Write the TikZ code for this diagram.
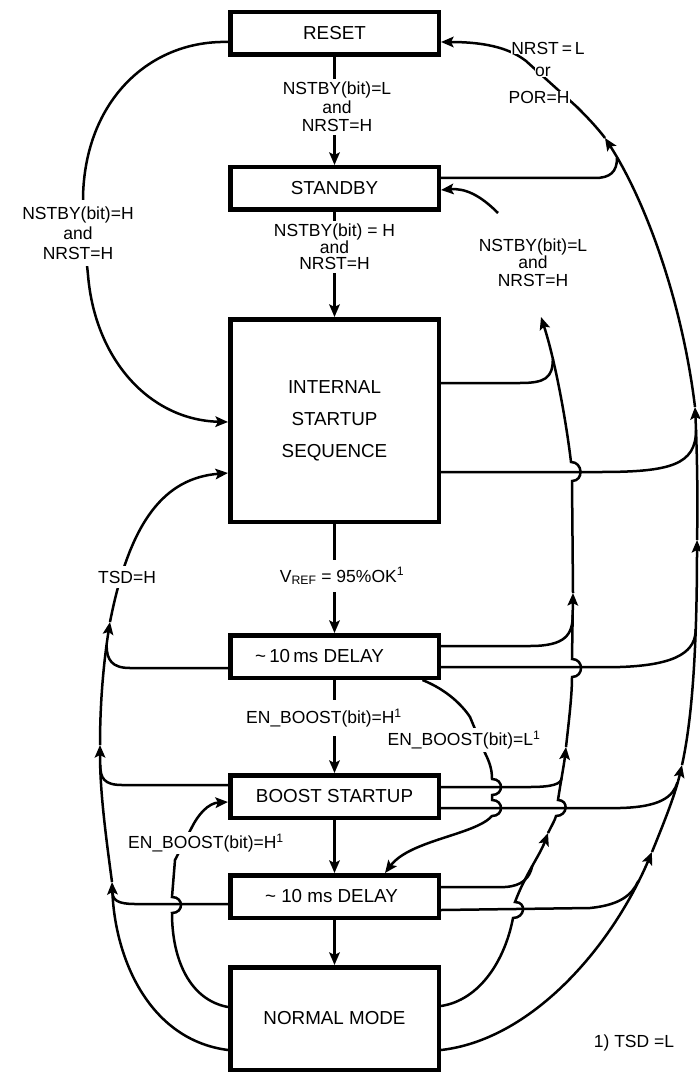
\documentclass[tikz,border=0pt]{standalone}
\usepackage{fontspec}
\setmainfont{Liberation Sans}
\usetikzlibrary{arrows.meta,backgrounds}
\begin{document}
\begin{tikzpicture}[x=1pt,y=-1pt,
  box/.style={draw,line width=4.5pt,minimum width=208.5pt,minimum height=42.5pt,inner sep=0pt,font=\fontsize{18.8}{22}\selectfont},
  lbl/.style={fill=white,inner sep=3pt,align=center,font=\fontsize{17.5}{18}\selectfont},
  tlbl/.style={fill=white,inner sep=0.3pt,font=\fontsize{17.5}{18}\selectfont},
  conn/.style={line width=2.5pt},
  arr/.style={line width=2.5pt,-{Stealth[length=12.5pt,width=10.5pt,inset=2.5pt]}},
]
\useasboundingbox (0,0) rectangle (699,1075);
% boxes
\node[box] (reset) at (334.5,33.5) {RESET};
\node[box] (standby) at (334.5,188.5) {STANDBY};
\node[box,minimum height=202.5pt,align=center,font=\fontsize{18.8}{32}\selectfont] (iss) at (334.5,420.5) {INTERNAL\\STARTUP\\SEQUENCE};
\node[box] (d1) at (334.5,656.5) {\hspace*{-30pt}\textasciitilde\,10\,ms DELAY};
\node[box] (boost) at (334.5,796.5) {BOOST STARTUP};
\node[box] (d2) at (334.5,896.5) {\hspace*{-6pt}\textasciitilde\ 10 ms DELAY};
\node[box,minimum height=102.5pt] (normal) at (334.5,1018.5) {NORMAL MODE};
% labels
\node[lbl,font=\fontsize{17.5}{18.5}\selectfont] (lblM1) at (337,107) {NSTBY(bit)=L\\and\\NRST=H};
\node[lbl,font=\fontsize{17.5}{16.5}\selectfont] (lblM2) at (334.5,247) {NSTBY(bit) = H\\and\\NRST=H};
\node[lbl,inner ysep=7pt] (lblV) at (342,576) {V\textsubscript{REF} = 95\%OK\textsuperscript{1}};
\node[lbl,inner ysep=9pt] (lblEH) at (324,718) {EN\_BOOST(bit)=H\textsuperscript{1}};
\node[lbl] (lblEL) at (464,740) {EN\_BOOST(bit)=L\textsuperscript{1}};
\node[lbl,inner sep=2pt] (lblEH2) at (206,843) {EN\_BOOST(bit)=H\textsuperscript{1}};
\node[lbl,inner ysep=7pt,font=\fontsize{17.5}{20}\selectfont] (lblL) at (78,233) {NSTBY(bit)=H\\and\\NRST=H};
\node[lbl,inner ysep=5pt] (lblT) at (127,577) {TSD=H};
\node[lbl,font=\fontsize{17.5}{17.5}\selectfont] (lblB) at (533,262.5) {NSTBY(bit)=L\\and\\NRST=H};
\node[tlbl] (lblN1) at (548,48) {NRST\,=\,L};
\node[tlbl] (lblN2) at (543,72) {or};
\node[tlbl] (lblN3) at (539,97) {POR=H};
\node[font=\fontsize{17.5}{18}\selectfont] (note) at (634,1043) {1) TSD =L};

\begin{scope}[on background layer]
\fill[white] (0,0) rectangle (699,1075);
% centre chain
\draw[arr] (reset.south) -- (standby.north);
\draw[arr] (standby.south) -- (iss.north);
\draw[arr] (iss.south) -- (d1.north);
\draw[arr] (d1.south) -- (boost.north);
\draw[arr] (boost.south) -- (d2.north);
\draw[arr] (d2.south) -- (normal.north);
% left: reset -> iss
\draw[arr] ([yshift=-8.5pt]reset.west) .. controls (150,40) and (85,100) .. (83,197)
  .. controls (83,230) and (86,255) .. (88,275)
  .. controls (95,360) and (150,420) .. ([yshift=-1.5pt]iss.west);
% left: TSD=H main line
\draw[arr] ([yshift=-31.5pt]normal.west) .. controls (150,1040) and (115,960) .. (112,882);
\draw[arr] (112,882) .. controls (105,830) and (100,790) .. (100,745);
\draw[arr] (100,745) .. controls (100,700) and (104,660) .. (110,622);
\draw[arr] (110,622) .. controls (130,520) and (165,478) .. ([yshift=-52.5pt]iss.west);
\draw[conn] ([yshift=-11.5pt]d1.west) -- (130,668) .. controls (112,668) and (106.6,660) .. (106.6,645);
\draw[conn] ([yshift=11.5pt]boost.west) -- (122,785) .. controls (104,785) and (100.3,778) .. (100.3,765);
\draw[conn] ([yshift=-7.5pt]d2.west) -- (135,904) .. controls (118,904) and (112.7,900) .. (112.7,893);
% left: EN_BOOST=H normal -> boost
\draw[arr] ([yshift=11.5pt]normal.west) .. controls (190,1000) and (172,960) .. (172,913)
  .. controls (184,913) and (184,897) .. (172,897) -- (175,860) -- (192,827)
  .. controls (198,815) and (208,803) .. ([yshift=-5.5pt]boost.west);
% EN_BOOST=L d1 -> d2
\draw[arr] ([xshift=88pt]d1.south) .. controls (447,690) and (462,705) .. (470,717) -- (485,753)
  .. controls (490,763) and (492,770) .. (492,779)
  .. controls (504,779) and (504,795) .. (492,795) -- (492,800)
  .. controls (504,800) and (504,816) .. (492,816)
  .. controls (475,835) and (410,840) .. ([xshift=50.5pt]d2.north);
% right outer line A -> reset
\draw[arr] ([yshift=-31.5pt]normal.east) .. controls (530,1040) and (610,950) .. (652,852);
\draw[arr] (652,852) .. controls (665,820) and (675,795) .. (682,765);
\draw[arr] (682,765) .. controls (692,720) and (697,650) .. (697,540);
\draw[arr] (697,540) .. controls (698,500) and (697,450) .. (695,407);
\draw[arr] (695,407) .. controls (682,300) and (645,200) .. (605,138);
\draw[arr] (605,138) .. controls (595,125) and (585,115) .. (577,107) -- (526,61)
  .. controls (512,50) and (490,42) .. ([yshift=-8.5pt]reset.east);
\draw[conn] ([yshift=10.5pt]standby.east) -- (595,178) .. controls (610,178) and (617,172) .. (617,158);
\draw[conn] ([yshift=-51.5pt]iss.east) -- (600,472) .. controls (670,472) and (696,465) .. (696,430);
\draw[conn] ([yshift=-10.5pt]d1.east) -- (620,667) .. controls (680,665) and (695.7,650) .. (695.7,629);
\draw[conn] ([yshift=-11.5pt]boost.east) -- (620,808) .. controls (660,807) and (673,797) .. (677.4,782.5);
\draw[conn] ([yshift=-13.5pt]d2.east) -- (590,908) .. controls (620,905) and (632,895) .. (638.3,881);
% right inner line B -> standby
\draw[arr] ([yshift=12.5pt]normal.east) .. controls (480,1000) and (505,960) .. (513,918)
  .. controls (525,918) and (527,902) .. (515,902)
  .. controls (525,875) and (540,855) .. (548,833);
\draw[arr] (548,833) .. controls (552,825) and (555,820) .. (556,816)
  .. controls (568,816) and (569,800) .. (558,800)
  .. controls (561,780) and (564,765) .. (566,747);
\draw[arr] (566,747) .. controls (569,720) and (572,695) .. (572,677)
  .. controls (584,677) and (584,659) .. (572,659) -- (573,593);
\draw[arr] (573,593) -- (572,481) .. controls (584,481) and (583,462) .. (571,462)
  .. controls (566,420) and (555,360) .. (541,317);
\draw[arr] (498,213) .. controls (480,195) and (465,188) .. ([yshift=-1.5pt]standby.east);
\draw[conn] ([yshift=37.5pt]iss.east) -- (520,383) .. controls (545,383) and (552.8,378) .. (552.8,359);
\draw[conn] ([yshift=10.5pt]d1.east) -- (530,646) .. controls (565,646) and (572.7,635) .. (572.7,615);
\draw[conn] ([yshift=9.5pt]boost.east) -- (530,787) .. controls (552,787) and (561.5,784) .. (561.5,778);
\draw[conn] ([yshift=9.5pt]d2.east) -- (505,887) .. controls (522,886) and (530,878) .. (532.3,865.6);
\end{scope}
\end{tikzpicture}
\end{document}
